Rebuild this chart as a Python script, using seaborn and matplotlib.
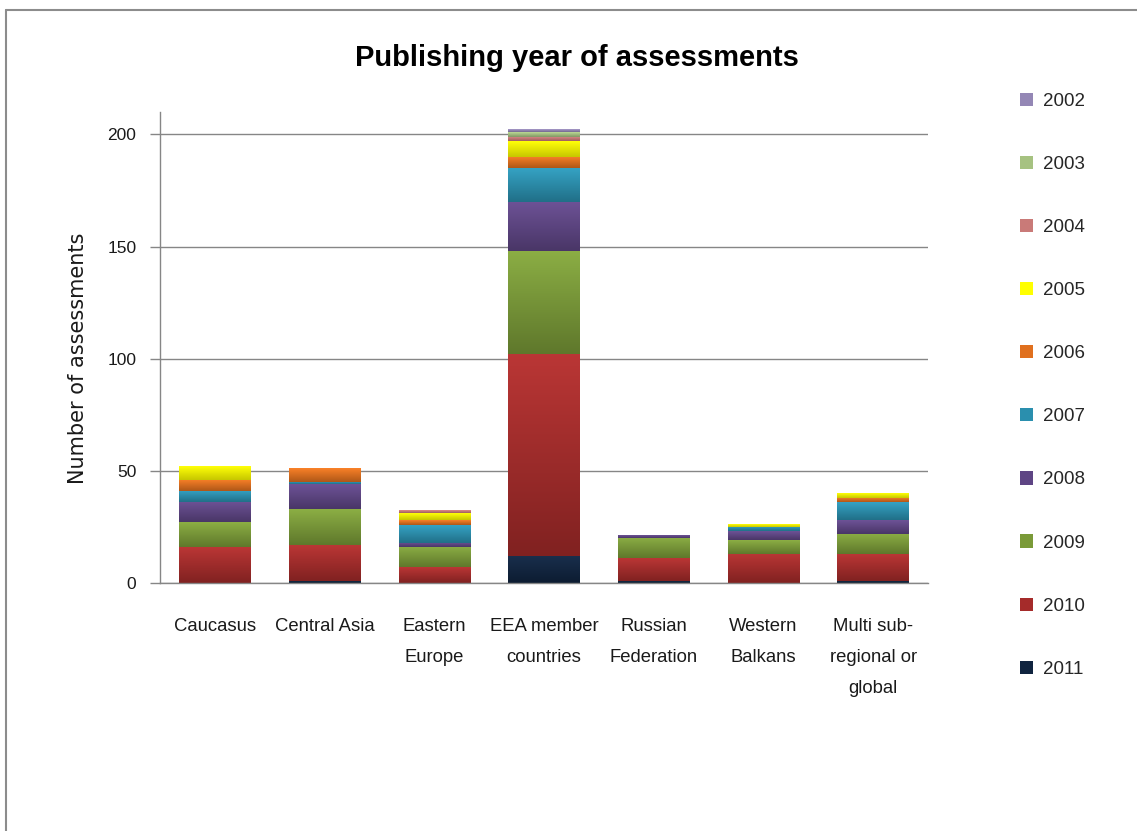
import numpy as np
import pandas as pd
import seaborn as sns
import matplotlib
matplotlib.use("Agg")
import matplotlib.pyplot as plt
from matplotlib.lines import Line2D
from matplotlib.patches import Patch
from matplotlib.colors import to_rgba

# ---------------- data ----------------
regions = ["Caucasus", "Central Asia", "Eastern\nEurope", "EEA member\ncountries",
           "Russian\nFederation", "Western\nBalkans", "Multi sub-\nregional or\nglobal"]
years = ["2002", "2003", "2004", "2005", "2006", "2007", "2008", "2009", "2010", "2011"]

y2002 = [0, 0, 0, 1, 0, 0, 0]
y2003 = [0, 0, 0, 2, 0, 0, 0]
y2004 = [0, 0, 1, 2, 0, 0, 0]
y2005 = [6, 0, 3, 7, 0, 1, 2]
y2006 = [5, 6, 2, 5, 0, 0, 2]
y2007 = [5, 1, 8, 15, 0, 2, 8]
y2008 = [9, 11, 2, 22, 1, 4, 6]
y2009 = [11, 16, 9, 46, 9, 6, 9]
y2010 = [16, 16, 7, 90, 10, 13, 12]
y2011 = [0, 1, 0, 12, 1, 0, 1]
series = [y2002, y2003, y2004, y2005, y2006, y2007, y2008, y2009, y2010, y2011]

colors = ["#9487B5", "#A6C281", "#C97A78", "#FFFF00", "#E0701E",
          "#2A8FAE", "#5E4584", "#7A9A38", "#A52B2A", "#10243F"]

yticks = [0, 50, 100, 150, 200]
title = "Publishing year of assessments"
ylabel = "Number of assessments"

rows = []
for yr, vals in zip(years, series):
    for i, v in enumerate(vals):
        rows.append({"pos": i, "year": yr, "count": v})
df = pd.DataFrame(rows)
palette = dict(zip(years, colors))

# ---------------- figure ----------------
sns.set_style("white")
plt.rcParams["font.family"] = ["Liberation Sans", "DejaVu Sans"]

fig = plt.figure(figsize=(11.37, 8.31), dpi=100)
ax = fig.add_axes([160 / 1137, 1 - 583 / 831, (928 - 160) / 1137, (583 - 112) / 831])

sns.histplot(data=df, x="pos", hue="year", weights="count", hue_order=years,
             palette=palette, multiple="stack", discrete=True, shrink=0.65,
             alpha=1, linewidth=0, legend=False, ax=ax)

# vertical gradient shading on each stacked segment (lighter top, darker bottom)
for p in list(ax.patches):
    h = p.get_height()
    if h <= 0:
        continue
    x0, y0, w = p.get_x(), p.get_y(), p.get_width()
    base = np.array(to_rgba(p.get_facecolor())[:3])
    t = np.linspace(0, 1, 64)[:, None]          # 0 bottom -> 1 top
    top = np.clip(base * 1.08 + 0.03, 0, 1)
    bot = base * 0.78
    grad = bot * (1 - t) + top * t
    img = np.concatenate([grad, np.ones((64, 1))], axis=1)[:, None, :]
    ax.imshow(img, extent=(x0, x0 + w, y0, y0 + h), origin="lower",
              aspect="auto", zorder=p.get_zorder() + 0.1, interpolation="bilinear")

ax.set_xlim(-0.5, len(regions) - 0.5)
ax.set_ylim(0, 210)
ax.set_yticks(yticks)
ax.set_yticklabels([str(t) for t in yticks], fontsize=12.5, color="#1a1a1a")
ax.set_xticks(range(len(regions)))
ax.set_xticklabels(regions, fontsize=13.3, color="#1a1a1a")
for lab in ax.get_xticklabels():
    lab.set_linespacing(2.1)
ax.set_xticks(np.arange(-0.5, len(regions), 1.0), minor=True)
ax.tick_params(axis="x", which="major", length=0, pad=25)
ax.tick_params(axis="x", which="minor", length=8, color="#868686", width=1, direction="out")
ax.tick_params(axis="y", which="major", length=7, color="#868686", width=1,
               direction="out", pad=10, left=True)
ax.set_xlabel("")
ax.set_ylabel(ylabel, fontsize=15, family=["DejaVu Sans"], color="#1a1a1a")
ax.yaxis.set_label_coords(-0.094, 0.476)

ax.yaxis.grid(True, color="#868686", linewidth=1)
ax.set_axisbelow(True)
for s in ["top", "right"]:
    ax.spines[s].set_visible(False)
for s in ["left", "bottom"]:
    ax.spines[s].set_color("#868686")
    ax.spines[s].set_linewidth(1)
    ax.spines[s].set_zorder(5)

fig.text(577 / 1137, 1 - 58 / 831, title, ha="center", va="center",
         fontsize=21, fontweight="bold", color="black")

handles = [Patch(facecolor=c, edgecolor="none") for c in colors]
fig.legend(handles, years, loc="upper left", bbox_to_anchor=(1020 / 1137, 1 - 93 / 831),
           frameon=False, fontsize=13.5, handlelength=0.7, handleheight=0.7,
           handletextpad=0.5, labelspacing=2.45, borderpad=0, borderaxespad=0)

# outer frame
fig.add_artist(Line2D([6 / 1137, 1], [1 - 10 / 831, 1 - 10 / 831],
                      transform=fig.transFigure, color="#8c8c8c", lw=1.5))
fig.add_artist(Line2D([6 / 1137, 6 / 1137], [0, 1 - 10 / 831],
                      transform=fig.transFigure, color="#8c8c8c", lw=1.5))

fig.savefig("out.png", dpi=100)
